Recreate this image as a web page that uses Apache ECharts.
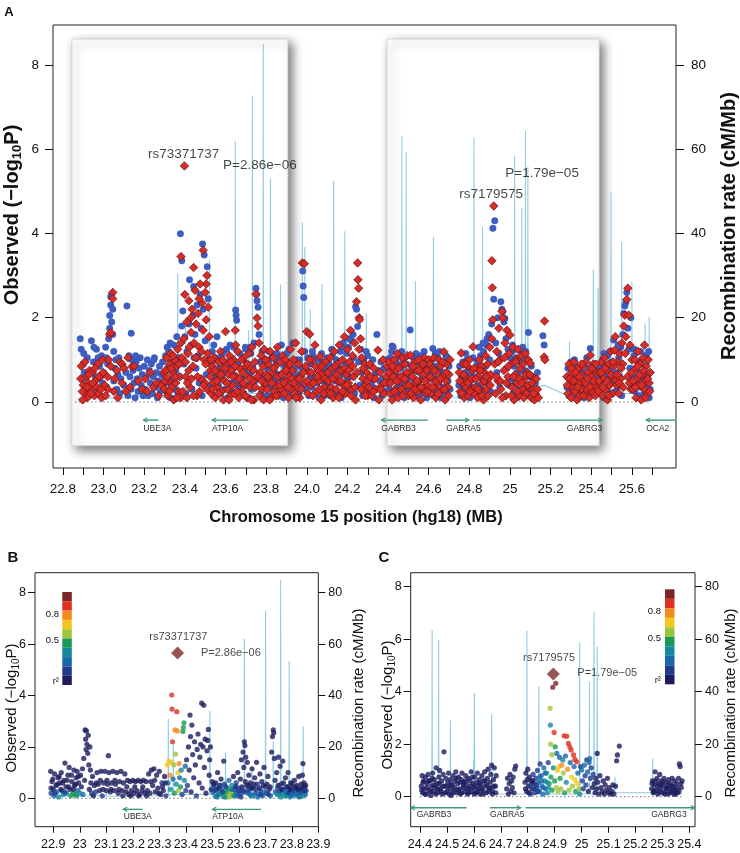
<!DOCTYPE html>
<html><head><meta charset="utf-8">
<script src="https://cdn.jsdelivr.net/npm/echarts@6/dist/echarts.min.js"></script>
<style>html,body{margin:0;padding:0;background:#fff}#c{width:740px;height:853px}</style>
</head><body><div id="c"></div>
<script>
// ---------------- DATA ----------------
const aXTicks = [22.8,22.9,23.0,23.1,23.2,23.3,23.4,23.5,23.6,23.7,23.8,23.9,24.0,24.1,24.2,24.3,24.4,24.5,24.6,24.7,24.8,24.9,25.0,25.1,25.2,25.3,25.4,25.5,25.6,25.7];
const aXLabelVals = [22.8,23.0,23.2,23.4,23.6,23.8,24.0,24.2,24.4,24.6,24.8,25.0,25.2,25.4,25.6];
const aXLabelText = ['22.8','23.0','23.2','23.4','23.6','23.8','24.0','24.2','24.4','24.6','24.8','25','25.2','25.4','25.6'];
const bXTicks = [22.9,23.0,23.1,23.2,23.3,23.4,23.5,23.6,23.7,23.8,23.9];
const bXLabelText = ['22.9','23','23.1','23.2','23.3','23.4','23.5','23.6','23.7','23.8','23.9'];
const cXTicks = [24.4,24.5,24.6,24.7,24.8,24.9,25.0,25.1,25.2,25.3,25.4];
const cXLabelText = ['24.4','24.5','24.6','24.7','24.8','24.9','25','25.1','25.2','25.3','25.4'];
const yLeftTicks = [0,2,4,6,8];
const yRightTicks = [0,20,40,60,80];

// Panel A: blue circles [pos, -log10P]
const aBlue = [
[22.885,1.5],[22.89,1.25],[22.9,0.9],[22.895,0.55],[22.91,0.3],[22.92,1.05],[22.925,0.15],[22.905,0.7],
[22.94,1.45],[22.95,0.95],[22.96,0.6],[22.965,1.25],[22.97,0.3],[22.98,0.85],[22.99,1.1],[22.995,0.45],
[23.0,0.7],[23.01,1.3],[23.015,0.35],[23.02,0.9],[23.025,1.5],[23.03,1.75],[23.03,2.05],[23.035,2.3],[23.035,2.5],[23.04,2.55],[23.04,1.9],[23.045,2.2],[23.045,1.6],[23.05,1.2],[23.05,0.5],[23.055,0.8],
[23.06,1.0],[23.065,0.3],[23.07,0.65],[23.075,1.05],[23.08,0.2],[23.085,0.55],[23.095,0.85],[23.1,0.4],[23.11,0.7],[23.115,2.28],[23.12,0.15],[23.136,1.63],
[23.125,1.1],[23.13,0.6],[23.135,0.3],[23.14,1.0],[23.145,0.75],[23.15,0.45],[23.155,0.1],[23.16,0.95],[23.165,0.55],[23.17,0.25],[23.175,0.8],[23.18,1.05],[23.185,0.4],[23.19,0.65],[23.195,0.15],
[23.2,0.85],[23.205,0.3],[23.21,0.6],[23.215,1.0],[23.22,0.15],[23.225,0.75],[23.23,0.45],[23.235,0.9],[23.24,0.2],[23.245,0.6],[23.25,1.05],[23.255,0.35],[23.26,0.7],[23.265,0.1],[23.27,0.5],[23.275,0.85],[23.28,0.25],[23.285,0.65],[23.29,0.95],[23.295,0.4],
[23.3,0.6],[23.305,1.1],[23.31,0.25],[23.315,0.8],[23.32,1.2],[23.325,0.45],[23.33,0.1],[23.335,0.95],[23.34,0.55],[23.345,1.35],[23.35,0.3],[23.355,0.75],[23.36,1.55],[23.365,0.2],[23.37,1.05],[23.375,0.6],
[23.378,3.99],[23.385,3.35],[23.39,2.16],[23.423,2.9],[23.443,2.74],[23.487,3.75],[23.495,3.49],[23.51,3.21],[23.4,1.55],[23.41,1.2],[23.415,0.5],[23.42,1.85],[23.43,1.35],[23.435,0.3],[23.44,2.05],[23.45,1.6],[23.455,0.8],[23.46,2.3],[23.465,1.1],[23.47,0.45],[23.475,2.55],[23.48,1.75],[23.485,0.15],[23.49,2.2],[23.5,1.45],[23.505,0.65],[23.515,2.45],[23.52,1.0],[23.395,0.9],[23.405,0.2],[23.445,1.05],[23.385,1.8],
[23.525,0.35],[23.53,0.9],[23.535,1.2],[23.54,0.15],[23.545,0.6],[23.55,1.05],[23.558,1.55],[23.565,0.4],[23.57,0.8],[23.575,0.2],[23.58,1.1],[23.585,0.55],[23.59,0.95],[23.595,0.3],[23.6,0.7],[23.605,1.25],[23.61,0.1],[23.615,0.85],[23.62,0.45],[23.625,1.0],[23.63,0.25],[23.635,0.65],[23.64,1.3],[23.645,0.5],[23.65,2.18],[23.652,2.06],[23.655,1.94],[23.66,0.9],[23.665,0.35],[23.67,1.15],
[23.68,0.55],[23.685,1.0],[23.69,0.2],[23.695,0.75],[23.7,1.25],[23.705,0.4],[23.71,0.9],[23.715,0.1],[23.72,0.65],[23.725,1.15],[23.73,0.3],[23.735,0.8],[23.74,1.4],[23.745,0.5],[23.75,2.7],[23.752,2.55],[23.755,2.4],[23.76,2.25],[23.765,1.6],[23.77,0.95],[23.775,0.2],[23.78,1.2],[23.785,0.6],[23.79,0.35],[23.795,1.0],[23.8,0.15],
[23.805,0.8],[23.81,0.4],[23.815,1.0],[23.82,0.15],[23.825,0.6],[23.83,1.1],[23.835,0.3],[23.84,0.75],[23.845,0.5],[23.85,0.95],[23.855,0.2],[23.86,0.65],[23.865,1.05],[23.87,0.35],[23.875,1.35],[23.88,0.55],[23.885,0.1],[23.89,0.85],[23.895,0.45],[23.9,1.15],[23.905,0.25],[23.91,0.7],[23.915,0.95],[23.92,0.35],[23.925,0.6],[23.93,1.4],[23.935,0.15],[23.94,0.8],[23.945,0.5],[23.95,1.0],
[23.955,0.65],[23.96,0.2],[23.965,1.0],[23.97,0.4],[23.975,0.8],[23.98,3.11],[23.982,2.75],[23.985,2.48],[23.99,1.2],[23.995,0.3],[24.0,0.75],[24.005,1.05],[24.01,0.15],[24.015,0.55],[24.02,0.9],[24.025,0.35],[24.03,1.1],[24.035,0.6],[24.04,0.2],[24.045,0.85],[24.05,0.45],[24.055,1.0],[24.06,0.1],[24.065,0.7],[24.07,0.3],[24.075,0.95],[24.08,0.5],[24.085,0.15],[24.09,0.8],[24.095,0.35],[24.1,1.05],
[24.105,0.4],[24.11,0.9],[24.115,0.15],[24.12,0.6],[24.125,1.1],[24.13,0.3],[24.135,0.75],[24.14,0.5],[24.145,1.0],[24.15,0.2],[24.155,0.85],[24.16,0.45],[24.165,1.2],[24.17,0.1],[24.175,0.65],[24.18,1.4],[24.185,0.35],[24.19,0.9],[24.195,1.15],[24.2,0.55],[24.205,1.3],[24.21,0.25],[24.215,0.8],[24.22,1.45],[24.225,0.6],[24.23,1.05],[24.235,0.2],[24.24,2.26],[24.245,2.2],[24.25,1.79],[24.255,0.95],[24.26,0.4],[24.265,1.25],[24.27,0.7],[24.275,0.15],[24.28,1.0],[24.285,0.5],[24.29,0.85],[24.295,0.3],[24.3,1.1],
[24.305,0.6],[24.31,0.2],[24.315,0.85],[24.32,0.4],[24.325,1.0],[24.33,0.1],[24.335,0.65],[24.345,1.6],[24.35,0.3],[24.355,0.75],[24.36,0.5],[24.365,0.95],[24.37,0.15],[24.375,0.55],[24.38,0.8],[24.385,0.25],[24.39,1.0],[24.395,0.45],
[24.4,0.8],[24.405,0.3],[24.41,1.05],[24.415,0.5],[24.42,1.33],[24.425,1.3],[24.43,0.15],[24.435,0.7],[24.44,0.95],[24.445,0.35],[24.45,0.6],[24.455,1.1],[24.46,0.2],[24.465,0.8],[24.47,0.45],[24.475,1.0],[24.48,0.1],[24.485,0.65],[24.49,0.9],[24.495,0.3],[24.5,0.55],[24.509,1.71],[24.515,0.85],[24.52,0.25],[24.525,1.05],[24.53,0.5],[24.535,0.75],[24.54,0.15],[24.545,0.95],[24.55,0.4],[24.555,0.7],[24.56,1.1],[24.565,0.2],[24.57,0.6],[24.575,0.85],[24.58,0.35],[24.585,1.0],[24.59,0.1],[24.595,0.55],[24.6,0.8],
[24.605,0.3],[24.61,0.65],[24.615,1.0],[24.62,1.27],[24.625,0.15],[24.63,0.55],[24.635,0.85],[24.64,0.25],[24.645,1.05],[24.65,0.45],[24.655,0.75],[24.66,0.1],[24.665,0.6],[24.67,0.95],[24.675,0.35],[24.68,0.7],[24.685,1.1],[24.69,0.2],[24.695,0.5],[24.7,0.85],[24.705,0.3],
[24.748,0.4],[24.752,0.85],[24.758,0.15],[24.762,0.6],[24.768,0.95],[24.772,0.3],[24.778,0.7],[24.782,0.2],[24.788,1.0],[24.792,0.5],[24.798,0.8],[24.802,0.1],[24.808,0.65],[24.812,0.35],[24.818,1.05],[24.822,0.55],
[24.83,0.6],[24.835,0.2],[24.84,0.95],[24.845,0.4],[24.85,0.75],[24.855,1.1],[24.86,0.3],[24.865,0.55],[24.87,1.2],[24.875,0.15],[24.88,0.85],[24.885,1.35],[24.89,0.45],[24.895,1.6],[24.9,1.0],[24.905,0.25],[24.91,1.85],[24.916,4.12],[24.925,4.3],[24.92,2.44],[24.93,1.4],[24.935,0.7],[24.94,2.0],[24.945,1.15],[24.95,0.35],[24.955,2.38],[24.96,2.2],[24.965,2.14],[24.97,1.9],[24.975,1.98],[24.98,1.5],[24.985,0.8],[24.99,1.25],[24.995,0.4],[25.0,1.05],
[25.005,0.55],[25.01,1.2],[25.015,0.2],[25.02,0.85],[25.025,0.45],[25.03,1.05],[25.035,0.1],[25.04,0.7],[25.045,0.3],[25.05,0.95],[25.055,0.5],[25.06,1.15],[25.065,0.2],[25.07,0.75],[25.075,0.4],[25.08,1.0],[25.085,0.15],[25.091,1.65],[25.095,0.6],[25.1,0.3],[25.105,0.85],[25.11,0.1],[25.115,0.5],[25.12,0.25],
[25.125,0.45],[25.13,0.15],[25.135,0.7],[25.162,1.57],[25.168,1.35],
[25.28,0.35],[25.285,0.8],[25.29,0.15],[25.295,0.55],[25.3,0.95],[25.305,0.25],[25.31,0.65],[25.315,0.4],[25.32,0.85],[25.325,0.1],[25.33,0.6],[25.335,0.3],[25.34,0.75],[25.345,0.5],[25.35,0.2],[25.355,0.9],[25.36,0.45],[25.365,0.1],[25.37,0.7],[25.375,0.35],[25.38,0.55],[25.385,0.15],[25.39,0.8],[25.395,1.27],[25.4,0.4],[25.405,0.65],[25.41,0.2],[25.415,0.76],[25.42,0.3],[25.425,0.5],
[25.435,0.55],[25.44,0.2],[25.445,0.8],[25.45,0.35],[25.455,1.0],[25.46,0.1],[25.465,0.6],[25.47,0.85],[25.475,0.3],[25.48,1.1],[25.485,0.5],[25.49,0.75],[25.495,0.2],[25.5,0.95],[25.505,0.45],[25.51,1.47],[25.515,0.65],[25.52,0.25],
[25.525,0.7],[25.53,0.35],[25.535,1.05],[25.54,0.6],[25.545,1.3],[25.55,0.15],[25.555,1.6],[25.56,2.1],[25.565,2.28],[25.57,2.36],[25.575,2.6],[25.58,1.75],[25.585,1.25],[25.59,0.8],[25.595,2.0],[25.6,0.45],
[25.605,0.6],[25.61,1.1],[25.615,0.25],[25.62,0.8],[25.625,0.45],[25.63,0.95],[25.635,0.15],[25.64,0.7],[25.645,0.35],[25.65,1.0],[25.655,0.55],[25.66,0.2],[25.665,0.85],[25.67,1.11],[25.675,0.4],[25.68,0.65],[25.685,0.1],[25.69,0.3],
[22.9025,1.15],[22.9525,1.3],[22.9725,1.05],[23.0125,1.05],[23.1575,1.1],[23.2475,1.0],[23.3125,1.3],[23.3275,1.4],[23.5425,1.35],[23.5925,1.2],[23.6225,1.35],[23.6975,1.3],[23.7225,1.3],[23.8125,1.2],[23.8525,1.15],[23.9125,1.25],[24.0275,1.2],[24.0725,1.15],[24.1225,1.25],[24.1725,1.3],[24.2075,1.5],[24.2275,1.6],[24.2925,1.2],[24.4175,1.2],[24.4675,1.2],[24.5375,1.15],[24.5775,1.2],[24.6325,1.15],[24.6525,1.2],[24.6925,1.05],[24.7825,1.15],[24.8475,1.3],[24.8675,1.4],[24.8875,1.5],[25.0125,1.35],[25.0325,1.25],[25.0625,1.3],[25.0775,1.2],[25.3175,1.0],[25.3775,1.05],[25.4625,1.15],[25.4925,1.2],[25.5325,1.35],[25.6125,1.25],[25.6425,1.2],[25.6825,1.2]
];
// Panel A: red diamonds [pos, -log10P]
const aRed = [
[22.89,0.85],[22.9,0.4],[22.91,0.2],[22.915,0.6],[22.92,0.1],[22.93,0.75],[22.895,0.25],[22.925,0.45],
[22.94,0.3],[22.945,0.7],[22.955,0.15],[22.96,0.5],[22.97,0.9],[22.975,0.2],[22.985,0.6],[22.99,0.1],[22.995,1.0],
[23.005,0.4],[23.01,0.15],[23.02,0.6],[23.025,1.0],[23.03,1.6],[23.035,1.65],[23.045,2.6],[23.045,2.45],[23.05,0.25],[23.055,0.55],[23.035,0.85],[23.02,0.3],
[23.065,0.75],[23.07,0.1],[23.08,0.95],[23.091,0.9],[23.09,0.45],[23.1,0.8],[23.11,0.25],[23.12,1.05],[23.14,0.84],
[23.13,0.35],[23.15,0.85],[23.17,0.5],[23.19,0.3],
[23.205,0.55],[23.215,0.25],[23.23,0.7],[23.245,0.35],[23.26,0.45],[23.27,0.15],[23.285,0.4],[23.295,0.7],
[23.3,0.3],[23.305,0.75],[23.31,1.05],[23.315,0.15],[23.32,0.5],[23.325,0.9],[23.33,1.15],[23.335,0.35],[23.34,0.7],[23.345,0.05],[23.35,1.0],[23.355,0.45],[23.36,0.85],[23.365,1.25],[23.37,0.25],[23.375,0.6],[23.38,1.4],[23.38,0.1],
[23.398,5.6],[23.381,3.45],[23.443,3.19],[23.49,3.6],[23.509,3.0],[23.505,2.8],[23.395,1.5],[23.4,2.55],[23.405,0.6],[23.41,1.9],[23.415,1.15],[23.42,2.4],[23.425,0.35],[23.43,1.65],[23.435,2.2],[23.44,0.85],[23.445,1.4],[23.45,2.65],[23.455,1.85],[23.46,0.15],[23.465,2.1],[23.47,1.3],[23.475,2.8],[23.48,0.55],[23.485,2.35],[23.49,1.7],[23.495,1.0],[23.5,2.6],[23.505,1.95],[23.51,0.3],[23.515,2.25],[23.52,1.55],[23.525,0.75],[23.39,0.25],[23.42,0.75],[23.46,1.05],[23.385,1.05],[23.41,0.1],[23.5,0.45],[23.43,2.0],[23.47,2.45],
[23.525,0.6],[23.53,0.2],[23.535,0.85],[23.54,0.45],[23.545,1.05],[23.55,0.1],[23.555,0.7],[23.56,0.35],[23.565,0.95],[23.57,0.55],[23.575,1.2],[23.58,0.25],[23.585,0.8],[23.59,0.05],[23.595,0.5],[23.6,1.67],[23.605,0.9],[23.61,0.3],[23.615,0.65],[23.62,1.1],[23.625,0.15],[23.63,0.75],[23.635,0.4],[23.64,1.0],[23.645,0.2],[23.648,1.7],[23.65,1.35],[23.655,0.6],[23.66,1.2],[23.665,0.1],[23.67,0.8],[23.675,0.45],
[23.68,0.25],[23.685,0.7],[23.69,1.05],[23.695,0.4],[23.7,0.85],[23.705,0.1],[23.71,0.6],[23.715,1.15],[23.72,0.35],[23.725,0.8],[23.73,1.3],[23.735,0.5],[23.74,0.05],[23.745,0.95],[23.75,2.56],[23.755,1.99],[23.76,1.8],[23.765,1.4],[23.77,0.7],[23.775,1.1],[23.78,0.3],[23.785,0.85],[23.79,1.25],[23.795,0.45],[23.8,0.65],
[23.805,0.3],[23.81,0.9],[23.815,0.55],[23.82,1.2],[23.825,0.1],[23.83,0.7],[23.835,1.05],[23.84,0.25],[23.845,0.85],[23.85,0.4],[23.855,1.3],[23.86,0.15],[23.865,0.6],[23.87,0.95],[23.875,0.3],[23.88,1.1],[23.885,0.7],[23.89,0.2],[23.895,1.0],[23.9,0.5],[23.905,0.85],[23.91,0.1],[23.915,0.6],[23.92,1.25],[23.925,0.3],[23.93,0.75],[23.935,1.0],[23.94,0.2],[23.945,1.4],[23.95,0.55],
[23.955,0.35],[23.96,0.9],[23.965,0.1],[23.97,0.6],[23.975,1.2],[23.978,3.3],[23.988,3.28],[23.99,0.45],[23.995,0.85],[24.0,1.67],[24.014,1.61],[24.005,0.2],[24.01,0.7],[24.02,0.4],[24.025,1.0],[24.03,0.15],[24.04,1.35],[24.045,0.55],[24.05,0.25],[24.055,0.75],[24.06,0.5],[24.065,1.08],[24.07,0.05],[24.075,0.65],[24.08,0.9],[24.085,0.35],[24.09,0.55],[24.095,0.2],[24.1,0.7],
[24.105,0.7],[24.11,0.25],[24.115,1.05],[24.12,0.35],[24.125,0.8],[24.13,0.1],[24.135,1.2],[24.14,0.55],[24.145,0.3],[24.15,0.9],[24.155,0.5],[24.16,1.35],[24.165,0.15],[24.17,0.75],[24.175,1.0],[24.18,0.4],[24.185,1.55],[24.19,0.2],[24.195,0.65],[24.2,1.25],[24.205,0.45],[24.21,0.95],[24.215,1.7],[24.22,0.3],[24.225,1.1],[24.23,0.6],[24.235,1.4],[24.24,0.05],[24.245,2.38],[24.25,3.3],[24.252,2.9],[24.255,2.7],[24.258,2.0],[24.26,1.95],[24.265,1.5],[24.27,1.05],[24.275,0.55],[24.28,0.25],[24.285,0.9],[24.29,0.4],[24.295,0.7],[24.3,0.15],
[24.305,0.35],[24.31,0.9],[24.32,0.15],[24.325,0.55],[24.33,0.8],[24.34,0.3],[24.35,1.23],[24.355,0.05],[24.36,0.7],[24.37,0.4],[24.375,1.0],[24.38,0.2],[24.39,0.6],[24.395,0.85],
[24.4,0.45],[24.405,0.95],[24.41,0.2],[24.415,0.7],[24.42,0.05],[24.425,0.6],[24.43,1.0],[24.435,0.3],[24.44,0.75],[24.445,1.15],[24.45,0.1],[24.455,0.5],[24.46,0.85],[24.465,0.3],[24.47,1.05],[24.475,0.6],[24.48,0.2],[24.485,0.9],[24.49,0.4],[24.495,1.1],[24.5,0.15],[24.505,0.7],[24.51,1.11],[24.515,0.35],[24.52,0.6],[24.525,0.1],[24.53,0.95],[24.535,0.45],[24.54,0.75],[24.545,0.25],[24.55,1.0],[24.555,0.5],[24.56,0.05],[24.565,0.85],[24.57,0.3],[24.575,0.65],[24.58,1.05],[24.585,0.2],[24.59,0.75],[24.595,0.4],[24.6,1.0],
[24.605,0.9],[24.61,0.2],[24.615,0.55],[24.62,0.8],[24.625,1.05],[24.63,0.35],[24.635,0.1],[24.64,0.7],[24.645,0.45],[24.65,1.0],[24.655,0.2],[24.66,0.85],[24.665,0.3],[24.67,0.6],[24.675,1.19],[24.68,0.05],[24.685,0.5],[24.69,0.9],[24.695,0.35],[24.7,0.65],[24.705,1.0],
[24.75,0.7],[24.755,0.25],[24.76,1.16],[24.765,0.45],[24.77,0.9],[24.775,0.1],[24.78,0.6],[24.785,0.35],[24.79,0.85],[24.795,0.15],[24.8,1.0],[24.805,0.5],[24.81,0.3],[24.815,0.75],[24.818,1.31],[24.825,0.2],
[24.83,0.35],[24.835,0.8],[24.84,0.1],[24.845,0.6],[24.85,1.0],[24.855,0.25],[24.86,0.85],[24.865,0.45],[24.87,0.05],[24.875,0.7],[24.88,1.1],[24.885,0.3],[24.89,0.9],[24.895,0.55],[24.9,1.3],[24.905,0.65],[24.91,1.5],[24.911,3.35],[24.913,2.71],[24.915,1.95],[24.92,4.65],[24.925,0.9],[24.93,0.2],[24.935,1.2],[24.94,0.5],[24.945,1.75],[24.95,1.0],[24.955,0.3],[24.96,2.15],[24.965,1.99],[24.97,0.75],[24.975,1.4],[24.98,0.15],[24.985,1.7],[24.99,0.6],[24.995,1.15],[25.0,1.59],
[25.005,0.9],[25.01,0.35],[25.015,1.3],[25.02,0.05],[25.025,0.65],[25.03,1.0],[25.035,0.45],[25.04,1.25],[25.045,0.15],[25.05,0.8],[25.055,1.1],[25.06,0.3],[25.065,0.9],[25.07,0.55],[25.075,1.15],[25.08,0.2],[25.085,0.7],[25.09,1.0],[25.095,0.35],[25.1,0.92],[25.105,0.1],[25.11,0.6],[25.115,0.3],[25.12,0.05],
[25.125,0.2],[25.13,0.55],[25.135,0.3],[25.14,0.1],[25.17,1.92],[25.168,1.07],[25.172,1.0],
[25.28,0.6],[25.285,0.2],[25.29,0.9],[25.295,0.4],[25.3,0.1],[25.305,0.7],[25.31,0.35],[25.315,0.95],[25.32,0.25],[25.325,0.55],[25.33,0.05],[25.335,0.8],[25.34,0.45],[25.345,0.15],[25.35,0.65],[25.355,0.3],[25.36,0.85],[25.365,0.5],[25.37,0.2],[25.375,0.95],[25.38,0.3],[25.385,0.7],[25.39,0.1],[25.395,1.11],[25.4,0.6],[25.405,0.25],[25.41,0.9],[25.415,0.4],[25.42,0.15],[25.425,0.7],[25.43,0.3],
[25.435,0.25],[25.44,0.7],[25.445,0.4],[25.45,0.95],[25.455,0.15],[25.46,0.55],[25.465,1.05],[25.47,0.3],[25.475,0.75],[25.48,0.05],[25.485,0.9],[25.49,0.4],[25.495,1.2],[25.5,0.6],[25.505,0.2],[25.51,0.85],[25.515,1.23],[25.518,1.55],[25.52,0.5],
[25.525,0.4],[25.53,0.95],[25.535,0.2],[25.54,1.15],[25.545,0.55],[25.55,1.4],[25.555,0.9],[25.56,1.8],[25.565,2.06],[25.57,1.55],[25.575,2.43],[25.58,2.7],[25.585,2.06],[25.59,1.35],[25.595,0.3],[25.6,1.0],
[25.605,0.3],[25.61,0.75],[25.615,1.0],[25.62,0.1],[25.625,0.55],[25.63,1.2],[25.635,0.4],[25.64,0.9],[25.645,0.05],[25.65,0.65],[25.655,1.05],[25.66,0.3],[25.662,1.35],[25.665,0.5],[25.67,0.85],[25.675,0.2],[25.68,1.0],[25.685,0.45],[25.69,0.7],
[22.8875,0.55],[22.8975,0.05],[22.9075,0.95],[22.9175,0.35],[22.9275,0.65],[22.9375,0.2],[22.9475,0.45],[22.9575,0.8],[22.9675,0.35],[22.9775,0.6],[22.9875,0.3],[22.9975,0.7],
[23.3025,0.5],[23.3125,0.6],[23.3225,0.25],[23.3325,0.8],[23.3425,1.1],[23.3525,0.6],[23.3625,0.1],[23.3725,0.9],
[23.4025,0.95],[23.4125,0.45],[23.4225,1.3],[23.4325,0.55],[23.4425,0.15],[23.4525,1.05],[23.4625,0.6],[23.4725,0.25],[23.4825,1.2],[23.4925,0.4],[23.5025,0.9],[23.5125,1.15],
[23.5275,1.0],[23.5375,0.3],[23.5475,0.75],[23.5575,0.5],[23.5675,0.2],[23.5775,0.65],[23.5875,1.0],[23.5975,0.8],[23.6075,0.45],[23.6175,0.05],[23.6275,0.95],[23.6375,0.6],[23.6475,0.85],[23.6575,0.25],[23.6675,0.55],[23.6775,1.0],
[23.6875,0.45],[23.6975,0.15],[23.7075,0.9],[23.7175,0.55],[23.7275,0.05],[23.7375,0.75],[23.7475,0.35],[23.7575,0.6],[23.7675,0.15],[23.7775,0.5],[23.7875,0.05],[23.7975,1.0],
[23.8075,0.6],[23.8175,0.05],[23.8275,0.45],[23.8375,0.8],[23.8475,0.15],[23.8575,0.6],[23.8675,0.4],[23.8775,0.65],[23.8875,0.45],[23.8975,0.75],[23.9075,0.35],[23.9175,0.9],[23.9275,0.55],[23.9375,0.45],[23.9475,0.1],
[23.9625,0.55],[23.9725,0.3],[23.9825,0.7],[24.0025,0.5],[24.0125,1.0],[24.0225,0.7],[24.0325,0.45],[24.0425,0.85],[24.0525,0.6],[24.0625,0.3],[24.0725,0.85],[24.0825,0.2],[24.0925,0.95],
[24.1075,0.5],[24.1175,0.2],[24.1275,0.55],[24.1375,0.85],[24.1475,0.65],[24.1575,0.1],[24.1675,0.5],[24.1775,0.25],[24.1875,0.8],[24.1975,0.4],[24.2075,0.75],[24.2175,0.15],[24.2275,0.85],[24.2375,0.35],[24.2475,0.7],[24.2575,1.25],[24.2675,0.3],[24.2775,0.8],[24.2875,0.15],[24.2975,0.5],
[24.3125,0.6],[24.3275,0.25],[24.3375,0.55],[24.3625,0.3],[24.3825,0.45],
[24.4025,0.7],[24.4125,0.45],[24.4225,0.85],[24.4325,0.25],[24.4425,0.5],[24.4525,0.8],[24.4625,0.6],[24.4725,0.15],[24.4825,0.55],[24.4925,0.7],[24.5025,0.4],[24.5125,0.2],[24.5225,0.85],[24.5325,0.3],[24.5425,0.5],[24.5525,0.75],[24.5625,0.35],[24.5725,0.9],[24.5825,0.5],[24.5925,0.25],
[24.6075,0.6],[24.6175,0.35],[24.6275,0.75],[24.6375,0.5],[24.6475,0.2],[24.6575,0.55],[24.6675,0.95],[24.6775,0.3],[24.6875,0.7],[24.6975,0.15],
[24.7525,0.5],[24.7625,0.2],[24.7725,0.65],[24.7825,0.9],[24.7925,0.45],[24.8025,0.25],[24.8125,0.55],[24.8225,0.8],
[24.8325,0.55],[24.8425,0.3],[24.8525,0.75],[24.8625,0.15],[24.8725,0.5],[24.8825,0.6],[24.8925,0.15],[24.9025,0.4],[24.9325,0.6],[24.9425,0.95],[24.9525,0.5],[24.9625,0.1],[24.9725,1.05],[24.9825,0.45],[24.9925,0.85],
[25.0075,0.15],[25.0175,0.6],[25.0275,0.95],[25.0375,0.25],[25.0475,0.55],[25.0575,0.45],[25.0675,0.1],[25.0775,0.65],[25.0875,0.4],[25.0975,0.65],[25.1075,0.45],[25.1175,0.2],
[25.2825,0.4],[25.2925,0.55],[25.3025,0.8],[25.3125,0.5],[25.3225,0.7],[25.3325,0.35],[25.3425,0.6],[25.3525,0.9],[25.3625,0.15],[25.3725,0.45],[25.3825,0.55],[25.3925,0.35],[25.4025,0.8],[25.4125,0.5],[25.4225,0.9],
[25.4375,0.5],[25.4475,0.7],[25.4575,0.35],[25.4675,0.8],[25.4775,0.5],[25.4875,0.15],[25.4975,0.65],[25.5075,0.95],[25.5275,0.65],[25.5375,0.45],[25.5475,0.8],[25.5575,0.35],[25.5675,1.15],[25.5775,0.6],[25.5875,0.45],[25.5975,0.7],
[25.6075,0.5],[25.6175,0.35],[25.6275,0.85],[25.6375,0.65],[25.6475,0.4],[25.6575,0.75],[25.6675,0.1],[25.6775,0.55],[25.6875,0.25]
];
// Recombination rate (cM/Mb) [pos, rate]
const aRecomb = [[22.875,0.8],[22.97,1.5],[23.0,0.8],[23.09,1.2],[23.091,4.5],[23.092,1.0],[23.2,1.5],[23.3,1.0],[23.364,1.5],[23.365,30.5],[23.366,2.0],[23.402,2.0],[23.403,20],[23.404,2.5],[23.52,2.5],[23.521,33.7],[23.522,2.5],[23.647,2.0],[23.648,61.9],[23.649,2.0],[23.713,2.0],[23.714,17],[23.715,2.0],[23.731,2.0],[23.732,72.7],[23.733,2.0],[23.785,2.0],[23.786,85],[23.787,2.0],[23.82,2.0],[23.821,53.1],[23.822,2.0],[23.87,2.0],[23.871,27.9],[23.872,1.5],[23.977,1.5],[23.978,42.6],[23.979,2.0],[23.989,2.0],[23.99,36.8],[23.991,2.0],[24.016,2.0],[24.017,21.8],[24.018,2.0],[24.074,2.0],[24.075,28],[24.076,2.0],[24.131,2.0],[24.132,52.4],[24.133,2.0],[24.186,2.0],[24.187,40.5],[24.188,2.5],[24.239,2.5],[24.24,8],[24.241,2.5],[24.292,2.0],[24.293,21],[24.294,1.5],[24.467,1.0],[24.468,63.1],[24.469,1.5],[24.488,1.5],[24.489,59.2],[24.49,1.5],[24.534,1.5],[24.535,28.7],[24.536,1.5],[24.622,1.5],[24.623,39.2],[24.624,1.0],[24.822,1.0],[24.823,62.7],[24.824,1.5],[24.864,1.5],[24.865,41.6],[24.866,2.0],[25.022,2.0],[25.023,58.4],[25.024,2.0],[25.057,2.0],[25.058,46],[25.059,2.0],[25.075,2.0],[25.076,64.3],[25.077,2.0],[25.087,2.0],[25.088,55.8],[25.089,3.0],[25.17,4.0],[25.27,1.8],[25.292,1.5],[25.293,14.3],[25.294,1.5],[25.409,1.5],[25.41,31.3],[25.411,1.5],[25.432,1.5],[25.433,27],[25.434,1.5],[25.496,1.5],[25.497,49.7],[25.498,2.0],[25.549,2.0],[25.55,38],[25.551,2.0],[25.599,2.0],[25.6,28.5],[25.601,2.0],[25.664,2.0],[25.665,18.7],[25.666,2.0],[25.684,2.0],[25.685,20.2],[25.686,1.5],[25.69,1.0]];
const bRecomb = [[22.885,0.8],[22.939,0.8],[22.94,2.5],[22.941,0.8],[22.969,0.8],[22.97,3.5],[22.971,0.8],[23.038,1.0],[23.039,4.5],[23.04,1.0],[23.099,1.0],[23.1,2.5],[23.101,0.8],[23.333,1.0],[23.334,31],[23.335,1.5],[23.352,1.5],[23.353,21],[23.354,1.5],[23.49,1.5],[23.491,34],[23.492,1.5],[23.549,1.5],[23.55,17.7],[23.551,1.5],[23.62,1.5],[23.621,62],[23.622,1.5],[23.649,1.5],[23.65,12],[23.651,1.5],[23.7,1.5],[23.701,73],[23.702,1.5],[23.729,1.5],[23.73,22],[23.731,1.5],[23.757,1.5],[23.758,85],[23.759,1.5],[23.789,1.5],[23.79,53.4],[23.791,1.5],[23.799,1.5],[23.8,8],[23.801,1.5],[23.842,1.5],[23.843,28],[23.844,1.0],[23.855,0.8]];
const cRecomb = [[24.4,1.0],[24.444,1.0],[24.445,63.5],[24.446,1.0],[24.468,1.0],[24.469,59.7],[24.47,1.0],[24.512,1.0],[24.513,29],[24.514,1.0],[24.598,1.0],[24.599,14],[24.6,1.0],[24.601,1.0],[24.602,39.4],[24.603,1.0],[24.665,1.0],[24.666,31.5],[24.667,1.0],[24.796,1.0],[24.797,63.1],[24.798,1.0],[24.84,1.0],[24.841,41.9],[24.842,1.0],[24.992,1.0],[24.993,58.7],[24.994,1.0],[25.028,1.0],[25.029,43.8],[25.03,1.0],[25.045,1.0],[25.046,70.5],[25.047,1.0],[25.057,1.0],[25.058,57.1],[25.059,1.0],[25.123,1.0],[25.124,7.6],[25.125,1.5],[25.263,1.5],[25.264,14.6],[25.265,1.0],[25.375,1.0]];

// Panel B: [pos, -log10P, r2]
const bPoints = [
[22.89,1.05,.05],[22.892,0.2,.15],[22.895,0.65,.05],[22.9,0.35,.05],[22.903,0.1,.25],[22.905,0.95,.05],[22.91,0.5,.05],[22.913,0.25,.2],[22.918,0.8,.05],[22.92,0.05,.3],[22.925,0.6,.05],[22.93,1.0,.05],[22.932,0.3,.15],[22.937,0.15,.35],[22.94,0.7,.05],[22.944,1.37,.05],[22.948,0.45,.05],[22.95,0.2,.25],[22.955,0.9,.05],[22.96,1.2,.05],[22.963,0.35,.05],[22.966,0.1,.4],[22.97,0.65,.05],[22.974,0.2,.45],[22.978,1.1,.05],[22.98,0.5,.05],[22.983,0.15,.4],[22.986,0.8,.05],[22.988,0.1,.45],[22.99,1.05,.05],[22.993,0.3,.2],[22.996,0.6,.05],[23.0,0.2,.35],
[23.003,0.9,.05],[23.006,0.45,.05],[23.01,1.15,.05],[23.012,0.15,.2],[23.015,1.55,.05],[23.018,0.7,.05],[23.02,2.66,.05],[23.022,2.3,.05],[23.024,1.9,.05],[23.025,2.62,.05],[23.027,2.1,.05],[23.03,1.75,.05],[23.032,2.45,.05],[23.034,1.3,.05],[23.036,0.35,.05],[23.038,2.0,.05],[23.04,1.1,.05],[23.042,0.6,.05],[23.045,0.2,.15],[23.048,0.85,.05],
[23.055,0.5,.05],[23.06,0.25,.1],[23.065,1.0,.05],[23.07,0.55,.05],[23.075,0.3,.05],[23.08,1.05,.05],[23.085,0.1,.1],[23.09,0.6,.05],[23.095,1.05,.05],[23.1,0.3,.05],[23.105,0.55,.05],[23.108,1.66,.05],[23.11,1.0,.05],[23.115,0.25,.05],[23.12,0.6,.05],[23.125,1.05,.05],[23.13,0.3,.05],[23.135,0.55,.05],[23.14,1.0,.05],[23.145,0.2,.05],[23.15,0.65,.05],[23.155,1.05,.05],[23.16,0.3,.05],[23.165,0.6,.05],[23.17,0.95,.05],[23.175,0.25,.05],[23.18,0.7,.05],[23.185,0.15,.05],[23.19,0.65,.05],[23.195,0.3,.05],[23.2,0.7,.05],[23.205,0.2,.05],[23.21,0.65,.05],[23.215,0.3,.05],[23.22,0.7,.05],[23.225,0.15,.05],[23.23,0.65,.05],[23.235,0.3,.05],[23.24,0.7,.05],[23.245,0.2,.05],[23.25,0.65,.05],[23.255,0.3,.05],[23.26,0.95,.05],[23.265,0.2,.05],[23.27,1.1,.05],[23.275,0.5,.05],[23.28,1.15,.05],[23.285,0.25,.05],[23.29,0.9,.05],[23.295,0.4,.05],[23.3,1.05,.05],[23.305,0.15,.05],[23.31,0.6,.1],[23.315,0.3,.05],[23.32,0.85,.05],[23.325,0.1,.15],
[23.33,1.3,.65],[23.333,0.6,.2],[23.336,1.45,.6],[23.34,0.9,.7],[23.342,0.35,.3],[23.345,1.4,.65],[23.347,4.02,.85],[23.348,3.47,.85],[23.35,2.2,.8],[23.352,0.75,.25],[23.355,1.3,.55],[23.357,0.2,.4],[23.359,2.66,.75],[23.362,1.72,.55],[23.364,0.55,.35],[23.366,3.37,.85],[23.368,2.62,.75],[23.37,1.0,.65],[23.372,0.3,.5],[23.375,1.35,.7],[23.377,0.8,.25],[23.38,0.45,.45],[23.383,1.1,.3],[23.386,0.15,.15],[23.389,2.6,.4],[23.391,2.75,.4],[23.393,2.94,.4],[23.395,0.7,.35],[23.398,1.25,.2],[23.4,0.3,.1],
[23.403,1.5,.05],[23.406,0.5,.1],[23.41,2.0,.05],[23.413,1.1,.05],[23.416,3.24,.05],[23.418,2.4,.05],[23.42,0.25,.05],[23.423,2.85,.05],[23.426,1.7,.05],[23.43,0.8,.05],[23.433,2.2,.05],[23.436,1.3,.05],[23.44,0.1,.1],[23.443,1.9,.05],[23.446,2.5,.05],[23.45,0.6,.05],[23.453,1.6,.05],[23.456,2.1,.05],[23.46,3.7,.05],[23.462,0.4,.05],[23.465,2.0,.05],[23.468,3.62,.05],[23.47,1.2,.05],[23.473,2.3,.05],[23.476,0.2,.05],[23.48,1.85,.05],[23.483,2.25,.05],[23.485,2.68,.05],[23.488,0.9,.05],[23.49,1.5,.05],[23.493,2.0,.05],[23.496,0.35,.05],[23.5,0.65,.05],
[23.503,0.25,.1],[23.506,0.45,.2],[23.51,0.1,.3],[23.513,0.6,.05],[23.516,0.3,.15],[23.52,1.0,.05],[23.523,0.15,.25],[23.526,0.5,.1],[23.53,0.2,.35],[23.533,0.75,.05],[23.536,0.35,.2],[23.54,0.1,.4],[23.543,1.45,.05],[23.546,0.55,.15],[23.55,0.25,.3],[23.553,0.05,.45],[23.556,0.4,.4],[23.56,0.15,.5],[23.563,0.7,.25],[23.566,0.3,.45],[23.57,0.1,.55],[23.573,0.5,.35],[23.576,0.2,.4],[23.58,0.85,.05],[23.583,0.35,.2],[23.586,0.1,.3],[23.59,0.6,.1],[23.593,0.25,.15],[23.596,1.0,.05],[23.6,0.4,.2],
[23.603,0.15,.1],[23.606,0.75,.05],[23.61,1.5,.05],[23.613,0.3,.15],[23.616,1.8,.05],[23.619,1.2,.05],[23.621,2.2,.05],[23.623,2.05,.05],[23.626,1.6,.05],[23.629,0.5,.1],[23.632,1.4,.05],[23.635,0.2,.2],[23.638,0.9,.05],[23.641,0.35,.1],[23.644,0.6,.05],[23.647,0.1,.25],[23.65,1.15,.05],
[23.655,0.4,.05],[23.66,0.8,.05],[23.663,0.2,.15],[23.667,1.4,.05],[23.67,0.55,.1],[23.675,0.15,.2],[23.68,0.95,.05],[23.683,0.3,.1],[23.687,0.65,.05],[23.69,0.1,.25],[23.695,1.2,.05],[23.7,0.45,.1],[23.705,0.2,.15],[23.71,0.85,.05],[23.715,0.35,.05],[23.72,0.1,.2],
[23.724,1.8,.05],[23.727,2.4,.05],[23.73,2.66,.05],[23.732,2.55,.05],[23.734,1.55,.05],[23.737,0.7,.05],[23.74,0.25,.15],
[23.743,1.0,.05],[23.746,0.4,.2],[23.75,1.6,.05],[23.753,0.15,.3],[23.756,1.25,.05],[23.76,0.55,.1],[23.763,0.2,.35],[23.766,1.45,.05],[23.77,0.35,.15],[23.773,0.1,.4],[23.776,0.8,.05],[23.78,0.45,.1],[23.783,0.2,.25],[23.786,1.0,.05],[23.79,0.3,.15],[23.793,0.05,.3],[23.796,0.6,.05],[23.8,0.25,.2],[23.803,0.4,.1],[23.806,0.15,.25],[23.81,0.7,.05],[23.813,0.3,.1],[23.816,0.1,.35],[23.82,0.5,.05],[23.823,0.2,.2],[23.826,0.85,.05],[23.83,0.35,.1],[23.833,0.1,.3],[23.836,0.55,.05],[23.84,0.9,.05],[23.842,1.35,.05],[23.845,0.25,.15],[23.848,0.45,.05],[23.851,0.15,.25],[23.854,0.3,.1],
[22.8915,0.4,.05],[22.8985,0.75,.05],[22.9065,0.2,.1],[22.9155,0.55,.05],[22.9225,0.85,.05],[22.9285,0.35,.05],[22.9355,0.6,.05],[22.9425,0.25,.1],[22.9525,0.7,.05],[22.9585,0.45,.05],[22.9685,0.9,.05],[22.9765,0.35,.05],[22.9845,0.55,.05],[22.9945,0.85,.05],
[23.5045,0.55,.05],[23.5115,0.35,.1],[23.5185,0.05,.2],[23.5245,0.4,.05],[23.5315,0.5,.1],[23.5385,0.25,.15],[23.5455,0.05,.3],[23.5515,0.45,.1],[23.5585,0.25,.45],[23.5645,0.05,.5],[23.5685,0.2,.5],[23.5745,0.35,.25],[23.5815,0.1,.35],[23.5885,0.45,.05],[23.5945,0.1,.2],[23.6015,0.3,.1],[23.6085,0.05,.15],[23.6115,0.45,.05],[23.6185,0.25,.1],[23.6245,0.65,.05],[23.6305,0.3,.15],[23.6365,0.5,.05],[23.6425,0.15,.2],[23.6485,0.4,.05],[23.6535,0.1,.3],[23.6585,0.55,.05],[23.6645,0.35,.1],[23.6715,0.05,.25],[23.6775,0.4,.05],[23.6845,0.15,.15],[23.6925,0.5,.05],[23.6985,0.25,.2],[23.7065,0.55,.05],[23.7125,0.15,.1],[23.7185,0.45,.05],[23.7445,0.15,.3],[23.7485,0.5,.05],[23.7545,0.3,.1],[23.7585,0.05,.35],[23.7625,0.35,.05],[23.7685,0.6,.05],[23.7745,0.25,.2],[23.7795,0.1,.3],[23.7845,0.45,.05],[23.7885,0.2,.15],[23.7945,0.35,.05],[23.7985,0.1,.25],[23.8015,0.55,.05],[23.8085,0.3,.15],[23.8145,0.45,.05],[23.8185,0.2,.2],[23.8245,0.35,.05],[23.8285,0.05,.2],[23.8345,0.25,.1],[23.8385,0.4,.05],[23.8435,0.1,.3],[23.8465,0.6,.05],[23.8495,0.3,.1],[23.8525,0.5,.05],
[23.0515,0.1,.05],[23.0625,0.6,.05],[23.0775,0.7,.05],[23.0875,0.35,.05],[23.1025,0.7,.05],[23.1175,0.35,.05],[23.1325,0.7,.05],[23.1475,0.35,.05],[23.1625,0.1,.05],[23.1775,0.45,.05],[23.1925,0.1,.05],[23.2075,0.45,.05],[23.2225,0.1,.05],[23.2375,0.45,.05],[23.2525,0.1,.05],[23.2675,0.65,.05],[23.2825,0.7,.05],[23.2975,0.2,.05],[23.3125,0.45,.05],[23.3225,0.6,.05]
];
// Panel C: [pos, -log10P, r2]
const cPoints = [
[24.405,0.4,.05],[24.408,0.8,.05],[24.41,0.15,.05],[24.413,0.6,.05],[24.416,0.3,.05],[24.42,0.75,.05],[24.423,0.1,.05],[24.426,0.5,.05],[24.43,0.85,.05],[24.433,0.25,.05],[24.436,0.6,.05],[24.44,0.05,.05],[24.443,0.4,.05],[24.447,0.9,.05],[24.45,0.2,.05],[24.453,0.65,.05],[24.457,0.35,.05],[24.46,1.1,.05],[24.463,0.5,.05],[24.466,0.15,.05],[24.47,0.75,.05],[24.473,1.0,.05],[24.476,0.3,.05],[24.48,0.6,.05],[24.483,0.1,.05],[24.486,0.85,.05],[24.489,1.71,.05],[24.492,0.4,.05],[24.496,0.7,.05],[24.5,0.2,.05],[24.503,0.55,.05],[24.506,0.9,.05],[24.51,0.3,.05],[24.513,0.65,.05],[24.516,0.05,.05],[24.52,0.45,.05],[24.523,0.8,.05],[24.526,0.25,.05],[24.53,0.6,.05],[24.533,0.95,.05],[24.536,0.15,.05],[24.54,0.5,.05],[24.543,0.75,.05],[24.546,0.3,.05],[24.55,0.1,.05],[24.553,0.65,.05],[24.556,0.9,.05],[24.56,0.35,.05],[24.563,0.55,.05],[24.566,0.2,.05],[24.57,0.8,.05],[24.573,0.45,.05],[24.576,0.1,.05],[24.58,0.7,.05],[24.583,0.3,.05],[24.586,0.6,.05],[24.59,0.95,.05],[24.593,0.2,.05],[24.596,0.5,.05],[24.6,0.35,.05],[24.603,0.75,.05],[24.606,0.15,.05],[24.61,0.55,.05],[24.613,0.9,.05],[24.616,0.3,.05],[24.62,0.65,.05],[24.623,0.1,.05],[24.626,0.45,.05],[24.63,0.8,.05],[24.633,0.25,.05],[24.636,0.6,.05],[24.64,0.95,.05],[24.643,0.4,.05],[24.646,0.15,.05],[24.65,0.7,.05],[24.653,1.05,.05],[24.656,0.3,.05],[24.66,0.55,.05],[24.663,0.85,.05],[24.666,1.2,.05],[24.67,0.2,.05],[24.673,0.65,.05],[24.676,1.1,.05],[24.68,0.4,.05],[24.683,0.8,.05],
[24.722,0.3,.05],[24.725,0.7,.05],[24.728,0.1,.05],[24.731,0.5,.05],[24.734,0.85,.05],[24.737,0.2,.05],[24.74,0.6,.05],[24.743,0.35,.05],[24.746,0.75,.05],[24.749,0.15,.05],[24.752,1.05,.05],[24.755,1.17,.05],
[24.79,0.55,.05],[24.793,0.9,.05],[24.796,0.2,.05],[24.8,1.05,.05],[24.803,0.4,.05],[24.806,0.75,.05],[24.81,0.1,.1],[24.813,0.6,.05],[24.816,0.3,.05],[24.82,0.85,.1],[24.823,0.5,.05],[24.826,0.15,.15],[24.83,0.7,.1],[24.833,0.35,.15],[24.836,1.0,.1],[24.84,0.55,.2],[24.843,0.2,.2],[24.846,1.25,.15],[24.85,0.8,.2],[24.853,0.4,.25],[24.856,0.1,.2],[24.86,1.1,.2],[24.863,0.6,.3],[24.866,0.3,.25],[24.87,0.9,.35],[24.873,0.15,.3],[24.876,1.3,.1],[24.88,0.5,.4],[24.883,3.37,.5],[24.884,2.73,.3],[24.885,2.0,.55],[24.886,0.75,.45],[24.889,1.6,.5],[24.89,0.25,.4],[24.893,4.17,.95],[24.895,1.1,.35],[24.898,2.45,.8],[24.9,0.6,.45],[24.902,1.9,.42],[24.904,4.32,.95],[24.906,0.35,.55],[24.908,1.65,.25],[24.91,1.0,.6],[24.913,0.2,.5],[24.915,1.14,.65],[24.918,1.5,.2],[24.92,0.7,.4],[24.923,0.3,.55],[24.926,1.2,.7],[24.93,1.4,.3],[24.932,0.9,.55],[24.935,2.32,.85],[24.937,0.15,.45],[24.94,1.55,.25],[24.943,0.55,.35],[24.945,2.3,.85],[24.948,1.05,.7],[24.951,2.03,.85],[24.953,0.25,.5],[24.956,1.9,.85],[24.958,1.3,.2],[24.961,1.78,.8],[24.963,0.75,.6],[24.966,0.4,.55],[24.97,1.59,.8],[24.972,1.15,.25],[24.975,1.42,.85],[24.976,0.64,.6],[24.978,0.2,.4],[24.982,1.33,.8],[24.984,0.5,.65],[24.986,0.9,.2],[24.99,0.3,.55],[24.993,0.1,.35],[24.996,1.15,.15],[25.0,1.02,.2],[25.003,0.6,.15],[25.006,0.3,.1],[25.01,1.2,.2],[25.013,0.8,.15],[25.016,0.45,.1],[25.019,1.4,.15],[25.022,0.95,.2],[25.025,0.2,.05],[25.028,1.3,.2],[25.03,1.45,.2],[25.033,0.7,.1],[25.036,1.1,.15],[25.04,0.35,.05],[25.043,0.85,.1],
[25.047,0.5,.05],[25.05,0.15,.05],[25.053,0.7,.05],[25.056,0.3,.05],[25.058,1.65,.05],[25.06,0.55,.05],[25.064,0.1,.05],[25.068,0.8,.05],[25.072,0.35,.05],[25.076,0.2,.05],[25.08,0.6,.05],[25.084,0.1,.05],[25.088,0.45,.05],[25.092,0.25,.05],[25.096,0.7,.05],[25.1,0.15,.05],[25.104,0.35,.05],[25.108,0.1,.05],[25.112,0.2,.05],[25.116,0.45,.05],[25.12,0.1,.05],[25.126,0.4,.05],[25.13,1.37,.05],[25.133,1.59,.05],[25.14,1.93,.05],
[25.26,0.3,.05],[25.263,0.6,.05],[25.266,0.15,.05],[25.27,0.45,.05],[25.273,0.95,.05],[25.276,0.25,.05],[25.28,0.7,.05],[25.283,0.1,.05],[25.286,0.5,.05],[25.29,0.85,.05],[25.293,0.3,.05],[25.296,0.6,.05],[25.3,0.15,.05],[25.303,0.4,.05],[25.306,0.7,.05],[25.31,0.2,.05],[25.313,0.55,.05],[25.316,0.35,.05],[25.32,0.1,.05],[25.323,0.65,.05],[25.326,0.3,.05],[25.33,0.5,.05],[25.333,0.2,.05],[25.336,0.7,.05],[25.34,0.4,.05],[25.343,0.1,.05],[25.346,0.6,.05],[25.35,0.25,.05],[25.353,0.5,.05],[25.356,0.15,.05],[25.36,0.7,.05],[25.363,1.25,.05],[25.366,1.15,.05],[25.37,0.35,.05],[25.373,0.6,.05],
[24.4065,0.25,.05],[24.4115,0.55,.05],[24.4185,0.1,.05],[24.4245,0.35,.05],[24.4315,0.6,.05],[24.4385,0.2,.05],[24.4455,0.7,.05],[24.4515,0.45,.05],[24.4585,0.1,.05],[24.4645,0.3,.05],[24.4715,0.5,.05],[24.4785,0.2,.05],[24.4845,0.4,.05],[24.4945,0.15,.05],[24.5015,0.4,.05],[24.5085,0.1,.05],[24.5145,0.45,.05],[24.5215,0.15,.05],[24.5285,0.35,.05],[24.5345,0.7,.05],[24.5415,0.25,.05],[24.5485,0.55,.05],[24.5545,0.15,.05],[24.5615,0.45,.05],[24.5685,0.6,.05],[24.5745,0.3,.05],[24.5815,0.15,.05],[24.5885,0.4,.05],[24.5945,0.75,.05],[24.6015,0.1,.05],[24.6085,0.4,.05],[24.6145,0.2,.05],[24.6215,0.5,.05],[24.6285,0.3,.05],[24.6345,0.1,.05],[24.6415,0.6,.05],[24.6485,0.45,.05],[24.6545,0.2,.05],[24.6615,0.35,.05],[24.6685,0.1,.05],[24.6745,0.4,.05],[24.6815,0.15,.05],
[24.7915,0.3,.05],[24.7985,0.65,.05],[24.8045,0.15,.05],[24.8115,0.45,.1],[24.8185,0.6,.05],[24.8245,0.3,.1],[24.8315,0.45,.15],[24.8375,0.2,.15],[24.8445,0.75,.2],[24.8515,0.6,.25],[24.8575,0.35,.2],[24.8645,0.9,.25],[24.8715,0.55,.3],[24.8775,0.35,.35],
[25.2615,0.5,.05],[25.2685,0.2,.05],[25.2745,0.6,.05],[25.2815,0.4,.05],[25.2885,0.2,.05],[25.2945,0.45,.05],[25.3015,0.55,.05],[25.3085,0.1,.05],[25.3145,0.3,.05],[25.3215,0.45,.05],[25.3285,0.15,.05],[25.3345,0.4,.05],[25.3415,0.25,.05],[25.3485,0.1,.05],[25.3545,0.35,.05],[25.3615,0.2,.05],[25.3685,0.5,.05]
];
const bLead = [[23.369,5.65]];
const cLead = [[24.895,4.67]];

// Genes: name, start, end, direction (-1 left, 1 right), label anchor, label align
const aGeneNames = ['UBE3A','ATP10A','GABRB3','GABRA5','GABRG3','OCA2'];
const aGeneStart = [23.196,23.534,24.367,24.686,24.818,25.670];
const aGeneEnd   = [23.270,23.712,24.596,24.798,25.454,25.813];
const aGeneDir   = [-1,-1,-1,1,1,-1];
const aGeneLabX  = [23.196,23.534,24.367,24.686,25.454,25.670];
const aGeneAlign = ['left','left','left','left','right','left'];
const bGeneNames = ['UBE3A','ATP10A'];
const bGeneStart = [23.164,23.500];
const bGeneEnd   = [23.237,23.684];
const bGeneDir   = [-1,-1];
const bGeneLabX  = [23.166,23.500];
const bGeneAlign = ['left','left'];
const cGeneNames = ['GABRB3','GABRA5','GABRG3'];
const cGeneStart = [24.366,24.660,24.792];
const cGeneEnd   = [24.573,24.774,25.420];
const cGeneDir   = [-1,1,1];
const cGeneLabX  = [24.388,24.660,25.390];
const cGeneAlign = ['left','left','right'];

// Annotations
const aAnnText = ['rs73371737','P=2.86e\u221206','rs7179575','P=1.79e\u221205'];
const aAnnX = [23.394,23.588,24.907,24.977];
const aAnnY = [5.88,5.61,4.93,5.43];
const aAnnAlign = ['center','left','center','left'];
const bAnnText = ['rs73371737','P=2.86e\u221206'];
const bAnnX = [23.372,23.457];
const bAnnY = [6.26,5.64];
const bAnnAlign = ['center','left'];
const cAnnText = ['rs7179575','P=1.79e\u221205'];
const cAnnX = [24.879,24.984];
const cAnnY = [5.27,4.70];
const cAnnAlign = ['center','left'];

// Highlight boxes in panel A [x0, x1, yTop, yBottom]
const aBoxes = [[22.844,23.907,8.61,-1.037],[24.395,25.439,8.61,-1.037]];
// r2 legend
const r2Breaks = [0,0.1,0.2,0.3,0.4,0.5,0.6,0.7,0.8,0.9,1.0];
const r2Colors = ['#1d1b5e','#1f3b8e','#1767ab','#128a9c','#169a55','#9ec63a','#f2c81e','#f28a1c','#df3020','#7d2424'];
const r2LegendLabels = ['0.8','0.5','r\u00b2'];

// ---------------- CHART ----------------
const FONT = "'Liberation Sans', Arial, Helvetica, sans-serif";
const RECOMB_COLOR = '#93cde2';
const GENE_COLOR = '#3a9a77';
const chart = echarts.init(document.getElementById('c'), null, {renderer:'canvas'});

function labelFmt(vals, texts){
  return function(v){
    for (let i=0;i<vals.length;i++){ if (Math.abs(vals[i]-v) < 1e-6) return texts[i]; }
    return '';
  };
}
function xAxisDef(gi, min, max, ticks, lvals, ltexts, fs, margin, tlen){
  return {type:'value', gridIndex:gi, min:min, max:max, position:'bottom',
    axisLine:{show:false, onZero:false}, splitLine:{show:false},
    axisTick:{show:true, customValues:ticks, length:tlen, lineStyle:{color:'#111', width:1}},
    axisLabel:{customValues:lvals, formatter:labelFmt(lvals, ltexts), fontSize:fs, fontFamily:FONT, color:'#111', margin:margin}};
}
function yAxisDef(gi, min, max, ticks, pos, fs, margin, tlen){
  return {type:'value', gridIndex:gi, min:min, max:max, position:pos,
    axisLine:{show:false, onZero:false}, splitLine:{show:false},
    axisTick:{show:true, customValues:ticks, length:tlen, lineStyle:{color:'#111', width:1}},
    axisLabel:{customValues:ticks, formatter:labelFmt(ticks, ticks.map(String)), fontSize:fs, fontFamily:FONT, color:'#111', margin:margin}};
}
function recombSeries(data, xi, yi){
  return {type:'line', xAxisIndex:xi, yAxisIndex:yi, data:data, symbol:'none', silent:true, z:3,
    lineStyle:{color:RECOMB_COLOR, width:1.1}};
}
function baseSeries(data, xi, yi){
  return {type:'line', xAxisIndex:xi, yAxisIndex:yi, data:data, symbol:'none', silent:true, z:3,
    lineStyle:{color:'#777', width:1, type:[1.5,2.5]}};
}
function annSeries(texts, xs, ys, aligns, xi, yi, fs){
  return {type:'scatter', xAxisIndex:xi, yAxisIndex:yi, symbolSize:0, silent:true, z:8,
    data: texts.map((t,i)=>({value:[xs[i], ys[i]], label:{show:true, position:'inside', formatter:t, align:aligns[i], verticalAlign:'middle', fontSize:fs, fontFamily:FONT, color:'#151515'}}))};
}
function geneSeries(names, starts, ends, dirs, labX, aligns, yLevel, xi, yi, labOff){
  return {type:'custom', xAxisIndex:xi, yAxisIndex:yi, silent:true, z:7, clip:false,
    data: names.map((n,i)=>[starts[i], ends[i], dirs[i], labX[i], yLevel]),
    encode:{x:[0,1], y:4},
    renderItem: function(params, api){
      const i = params.dataIndex;
      const s = api.coord([api.value(0), api.value(4)]);
      const e = api.coord([api.value(1), api.value(4)]);
      const lx = api.coord([api.value(3), api.value(4)]);
      const d = api.value(2);
      const tip = d < 0 ? s : e;
      return {type:'group', children:[
        {type:'line', shape:{x1:s[0], y1:s[1], x2:e[0], y2:e[1]}, style:{stroke:GENE_COLOR, lineWidth:1.4}},
        {type:'polyline', shape:{points:[[tip[0]-d*4, tip[1]-2.2],[tip[0], tip[1]],[tip[0]-d*4, tip[1]+2.2]]}, style:{stroke:GENE_COLOR, lineWidth:1.1, fill:null}},
        {type:'text', x:lx[0], y:s[1]+labOff, style:{text:names[i], fill:'#2a2a2a', font:'8.5px ' + FONT, textAlign:aligns[i], textVerticalAlign:'middle'}}
      ]};
    }};
}
function titleText(x, y, text, size, weight, subSize){
  return {type:'text', x:x, y:y, rotation:Math.PI/2, z:10,
    style:{text:text, fill:'#111', font: weight + ' ' + size + 'px ' + FONT, textAlign:'center', textVerticalAlign:'middle',
      rich:{n:{fontSize:size, fontWeight:weight, fontFamily:FONT, lineHeight:size*1.2, verticalAlign:'middle'},
            s:{fontSize:subSize, fontWeight:weight, fontFamily:FONT, lineHeight:subSize, verticalAlign:'bottom'}}}};
}
function plainText(x, y, text, size, weight, align){
  return {type:'text', x:x, y:y, z:10, style:{text:text, fill:'#111', font: weight + ' ' + size + 'px ' + FONT, textAlign:align||'center', textVerticalAlign:'middle'}};
}
const r2Pieces = r2Colors.map((c,i)=>({gte:r2Breaks[i], lt: i===r2Colors.length-1 ? 1.0001 : r2Breaks[i+1], color:c}));

const option = {
  animation:false,
  backgroundColor:'#fff',
  grid:[
    {left:53, top:25, width:623, height:443, show:true, borderColor:'#222', borderWidth:1, backgroundColor:'transparent'},
    {left:35, top:572.7, width:283.3, height:254, show:true, borderColor:'#222', borderWidth:1, backgroundColor:'transparent'},
    {left:410.7, top:572.7, width:284.3, height:254, show:true, borderColor:'#222', borderWidth:1, backgroundColor:'transparent'}
  ],
  xAxis:[
    xAxisDef(0, 22.751, 25.817, aXTicks, aXLabelVals, aXLabelText, 13.5, 14, 7),
    xAxisDef(1, 22.831, 23.9, bXTicks, bXTicks, bXLabelText, 12.5, 11, 6),
    xAxisDef(2, 24.3655, 25.421, cXTicks, cXTicks, cXLabelText, 12.5, 11, 6)
  ],
  yAxis:[
    yAxisDef(0, -1.566, 8.944, yLeftTicks, 'left', 13.5, 14, 8),
    yAxisDef(0, -15.66, 89.44, yRightTicks, 'right', 13.5, 15, 8),
    yAxisDef(1, -1.105, 8.778, yLeftTicks, 'left', 12.5, 9, 7),
    yAxisDef(1, -11.05, 87.78, yRightTicks, 'right', 12.5, 10, 7),
    yAxisDef(2, -1.143, 8.533, yLeftTicks, 'left', 12.5, 9, 7),
    yAxisDef(2, -11.43, 85.33, yRightTicks, 'right', 12.5, 10, 7)
  ],
  visualMap:[
    {type:'piecewise', seriesIndex:11, dimension:2, pieces:r2Pieces, orient:'vertical', left:62.3, top:592, itemWidth:9.5, itemHeight:9.3, itemGap:0, itemSymbol:'rect', showLabel:false, padding:0, selectedMode:false, hoverLink:false},
    {type:'piecewise', seriesIndex:17, dimension:2, pieces:r2Pieces, orient:'vertical', left:665, top:589.3, itemWidth:9.5, itemHeight:9.5, itemGap:0, itemSymbol:'rect', showLabel:false, padding:0, selectedMode:false, hoverLink:false}
  ],
  series:[
    {type:'scatter', xAxisIndex:0, yAxisIndex:0, data:[], silent:true, z:1,
      markArea:{silent:true, z:1, itemStyle:{color:'#fff', borderColor:'#cfcfcf', borderWidth:0.8, shadowBlur:10, shadowColor:'rgba(0,0,0,0.55)', shadowOffsetX:4, shadowOffsetY:4},
        data: aBoxes.map(b=>[{xAxis:b[0], yAxis:b[2]},{xAxis:b[1], yAxis:b[3]}])}},
    recombSeries(aRecomb, 0, 1),
    baseSeries([[22.86,0],[25.69,0]], 0, 0),
    {type:'scatter', xAxisIndex:0, yAxisIndex:0, data:aBlue, symbol:'circle', symbolSize:6.5, silent:true, z:4,
      itemStyle:{color:'#3d5ec4', borderColor:'#2c4aa8', borderWidth:0.4, opacity:1}},
    {type:'scatter', xAxisIndex:0, yAxisIndex:0, data:aRed, symbol:'diamond', symbolSize:8.5, silent:true, z:5,
      itemStyle:{color:'#d92b28', borderColor:'#5e1612', borderWidth:0.7, opacity:1}},
    annSeries(aAnnText, aAnnX, aAnnY, aAnnAlign, 0, 0, 13.5),
    geneSeries(aGeneNames, aGeneStart, aGeneEnd, aGeneDir, aGeneLabX, aGeneAlign, -0.43, 0, 0, 8.5),
    {type:'scatter', xAxisIndex:0, yAxisIndex:0, data:[], silent:true},
    recombSeries(bRecomb, 1, 3),
    baseSeries([[22.885,0],[23.855,0]], 1, 2),
    {type:'scatter', xAxisIndex:1, yAxisIndex:2, data:[], silent:true},
    {type:'scatter', xAxisIndex:1, yAxisIndex:2, data:bPoints, symbol:'circle', symbolSize:5.2, silent:true, z:4},
    {type:'scatter', xAxisIndex:1, yAxisIndex:2, data:bLead, symbol:'diamond', symbolSize:13, silent:true, z:6, itemStyle:{color:'#7d2a2a'}},
    annSeries(bAnnText, bAnnX, bAnnY, bAnnAlign, 1, 2, 11),
    geneSeries(bGeneNames, bGeneStart, bGeneEnd, bGeneDir, bGeneLabX, bGeneAlign, -0.43, 1, 2, 7),
    recombSeries(cRecomb, 2, 5),
    baseSeries([[24.4,0],[25.38,0]], 2, 4),
    {type:'scatter', xAxisIndex:2, yAxisIndex:4, data:cPoints, symbol:'circle', symbolSize:5.2, silent:true, z:4},
    {type:'scatter', xAxisIndex:2, yAxisIndex:4, data:cLead, symbol:'diamond', symbolSize:13, silent:true, z:6, itemStyle:{color:'#7d2a2a'}},
    annSeries(cAnnText, cAnnX, cAnnY, cAnnAlign, 2, 4, 11),
    geneSeries(cGeneNames, cGeneStart, cGeneEnd, cGeneDir, cGeneLabX, cGeneAlign, -0.42, 2, 4, 7)
  ],
  graphic:[
    plainText(9, 12, 'A', 13, 'bold'),
    plainText(356, 517, 'Chromosome 15 position (hg18) (MB)', 16.5, 'bold'),
    titleText(12, 215, '{n|Observed (\u2212log}{s|10}{n|P)}', 20, 'bold', 13),
    titleText(729, 226, '{n|Recombination rate (cM/Mb)}', 20, 'bold', 13),
    plainText(13, 558, 'B', 15, 'bold'),
    plainText(384, 558, 'C', 15, 'bold'),
    titleText(12, 708, '{n|Observed (\u2212log}{s|10}{n|P)}', 15, 'normal', 10),
    titleText(359, 703, '{n|Recombination rate (cM/Mb)}', 15, 'normal', 10),
    titleText(388, 705, '{n|Observed (\u2212log}{s|10}{n|P)}', 15, 'normal', 10),
    titleText(731, 703, '{n|Recombination rate (cM/Mb)}', 15, 'normal', 10),
    plainText(59, 614.3, r2LegendLabels[0], 9.5, 'normal', 'right'),
    plainText(59, 640, r2LegendLabels[1], 9.5, 'normal', 'right'),
    plainText(59, 681.7, r2LegendLabels[2], 9.5, 'normal', 'right'),
    plainText(661, 611.7, r2LegendLabels[0], 9.5, 'normal', 'right'),
    plainText(661, 638.3, r2LegendLabels[1], 9.5, 'normal', 'right'),
    plainText(661, 680.7, r2LegendLabels[2], 9.5, 'normal', 'right')
  ]
};
chart.setOption(option);
</script>
</body></html>
